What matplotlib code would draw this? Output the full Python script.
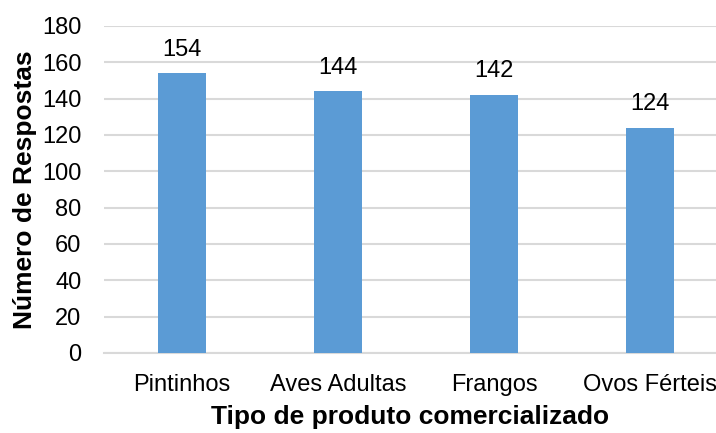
import numpy as np
import matplotlib.pyplot as plt

plt.rcParams['font.family'] = ['Liberation Sans', 'DejaVu Sans']

# dados
categorias = ['Pintinhos', 'Aves Adultas', 'Frangos', 'Ovos Férteis']
respostas = [154, 144, 142, 124]
y_ticks = [0, 20, 40, 60, 80, 100, 120, 140, 160, 180]

fig = plt.figure(figsize=(7.16, 4.33), dpi=100)
ax = fig.add_axes([0.145, 0.185, 0.855, 0.755])

x = np.arange(len(categorias))
bars = ax.bar(x, respostas, width=0.31, color='#5B9BD5', zorder=3)
ax.bar_label(bars, labels=[str(v) for v in respostas], padding=9, fontsize=17)

ax.set_xlim(-0.5, 3.423)
ax.set_ylim(0, 180)
ax.set_yticks(y_ticks)
ax.set_xticks(x)
ax.set_xticklabels(categorias, fontsize=17)
ax.tick_params(axis='y', labelsize=17, length=0, pad=16)
ax.tick_params(axis='x', length=0, pad=15)
ax.grid(axis='y', color='#D9D9D9', linewidth=1.5, zorder=0)

for s in ['top', 'right', 'left']:
    ax.spines[s].set_visible(False)
ax.spines['bottom'].set_color('#D9D9D9')
ax.spines['bottom'].set_linewidth(1.5)

ax.set_xlabel('Tipo de produto comercializado', fontsize=19, fontweight='bold', labelpad=7)
ax.set_ylabel('Número de Respostas', fontsize=19, fontweight='bold', labelpad=4)

fig.savefig('out.png', dpi=100)
